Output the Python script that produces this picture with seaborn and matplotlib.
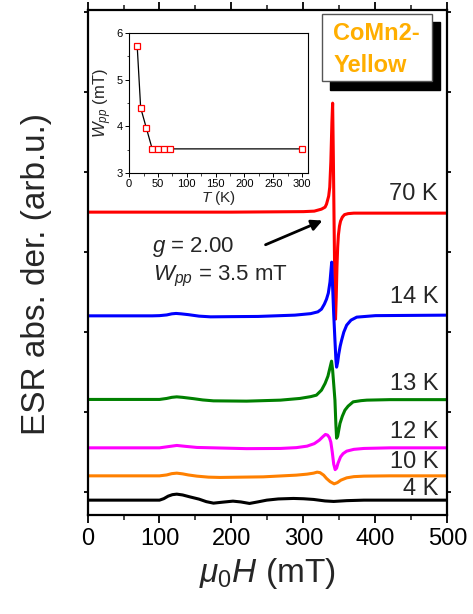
import matplotlib
matplotlib.use('Agg')
import matplotlib.pyplot as plt
import seaborn as sns
from matplotlib.patches import Rectangle
from matplotlib.ticker import MultipleLocator

# ESR spectra of CoMn2 (yellow) at several temperatures, offset vertically
# field values in mT, signal in arb. units (already offset)

h_70 = [0, 100, 200, 300, 315, 320, 325, 330, 332, 335, 336.5, 338, 339.5, 340.5, 341.5, 342.5, 343.5, 344.5,
        345.5, 346.5, 347.5, 348.5, 350, 351.5, 354, 357, 362, 370, 400, 500]
s_70 = [2.80, 2.80, 2.80, 2.805, 2.81, 2.82, 2.83, 2.85, 2.88, 2.96, 3.05, 3.30, 3.70, 3.89, 3.35, 2.70, 2.10, 1.73,
        1.95, 2.25, 2.45, 2.57, 2.66, 2.71, 2.75, 2.775, 2.785, 2.79, 2.79, 2.79]

h_14 = [0, 90, 100, 110, 117, 123, 130, 140, 155, 171, 200, 237, 288, 310, 320, 325, 329, 332, 334.5, 336.8, 338,
        339.2, 340.5, 342, 343.5, 345, 346, 347.5, 349, 351, 353, 356, 360, 366, 374, 400, 500]
s_14 = [1.763, 1.763, 1.765, 1.772, 1.783, 1.787, 1.783, 1.775, 1.760, 1.753, 1.755, 1.757, 1.77, 1.785, 1.803, 1.83,
        1.88, 1.93, 1.99, 2.10, 2.20, 2.30, 2.05, 1.78, 1.55, 1.33, 1.25, 1.30, 1.38, 1.46, 1.52, 1.60, 1.67, 1.72,
        1.75, 1.765, 1.77]

h_13 = [0, 100, 110, 117, 124, 132, 147, 160, 175, 221, 268, 295, 310, 318, 325, 330, 334, 337, 339, 340.5, 342,
        343.7, 345, 346, 347.5, 349, 350.7, 354, 357.6, 362, 369, 380, 388, 420, 500]
s_13 = [0.927, 0.927, 0.937, 0.948, 0.953, 0.948, 0.935, 0.922, 0.913, 0.91, 0.92, 0.937, 0.955, 0.97, 1.02, 1.087,
        1.16, 1.25, 1.31, 1.22, 1.08, 0.92, 0.68, 0.54, 0.56, 0.62, 0.687, 0.76, 0.82, 0.86, 0.903, 0.915, 0.92,
        0.925, 0.925]

h_12 = [0, 100, 112, 124, 136, 152, 221, 268, 290, 305, 315, 322, 327, 330.5, 333.5, 336, 338, 340, 342, 344, 346,
        348, 351.5, 355, 360, 370, 384, 420, 500]
s_12 = [0.443, 0.443, 0.455, 0.467, 0.458, 0.447, 0.435, 0.437, 0.445, 0.46, 0.485, 0.52, 0.555, 0.577, 0.57, 0.545,
        0.50, 0.40, 0.28, 0.225, 0.24, 0.29, 0.353, 0.385, 0.41, 0.428, 0.437, 0.443, 0.443]

h_10 = [0, 100, 110, 117, 124, 132, 140, 152, 168, 184, 244, 290, 305, 314, 319, 323, 328, 332, 337, 342.6, 347,
        352, 360, 370, 384, 420, 500]
s_10 = [0.163, 0.163, 0.172, 0.185, 0.19, 0.183, 0.172, 0.16, 0.15, 0.147, 0.153, 0.17, 0.18, 0.19, 0.20, 0.195,
        0.17, 0.137, 0.105, 0.083, 0.095, 0.12, 0.143, 0.155, 0.16, 0.163, 0.163]

h_4 = [0, 100, 106, 112, 118, 124, 132, 142, 155, 165, 175, 188, 202, 213, 225, 237, 249, 265, 286, 300, 314, 330,
       342, 360, 384, 500]
s_4 = [-0.08, -0.08, -0.065, -0.04, -0.025, -0.02, -0.028, -0.047, -0.07, -0.095, -0.11, -0.10, -0.09, -0.098,
       -0.113, -0.097, -0.08, -0.068, -0.063, -0.066, -0.073, -0.088, -0.093, -0.085, -0.08, -0.08]

traces = [
    ('70 K', h_70, s_70, '#ff0000', 2.92),
    ('14 K', h_14, s_14, '#0000ff', 1.887),
    ('13 K', h_13, s_13, '#008000', 1.02),
    ('12 K', h_12, s_12, '#ff00ff', 0.537),
    ('10 K', h_10, s_10, '#ff8000', 0.243),
    ('4 K', h_4, s_4, '#000000', -0.03),
]

# inset: linewidth vs temperature
temp_k = [14, 20, 30, 40, 50, 60, 70, 300]
w_pp = [5.72, 4.40, 3.96, 3.52, 3.52, 3.52, 3.52, 3.52]

sns.set_theme(style='ticks')
plt.rcParams['font.family'] = ['Liberation Sans', 'DejaVu Sans']
plt.rcParams['mathtext.fontset'] = 'custom'
plt.rcParams['mathtext.rm'] = 'Liberation Sans'
plt.rcParams['mathtext.it'] = 'Liberation Sans:italic'

fig = plt.figure(figsize=(4.73, 6.14), dpi=100)
ax = fig.add_axes([0.185, 0.161, 0.761, 0.8225])

for name, h, s, c, ylab in traces:
    sns.lineplot(x=h, y=s, ax=ax, color=c, lw=2.2, estimator=None)
    ax.text(487, ylab, name, ha='right', va='baseline', fontsize=17)

ax.set_xlim(0, 500)
ax.set_ylim(-0.23, 4.82)
ax.xaxis.set_major_locator(MultipleLocator(100))
ax.xaxis.set_minor_locator(MultipleLocator(50))
ax.set_yticks([0, 0.8, 1.6, 2.4, 3.2, 4.0, 4.8])
ax.set_yticklabels([])
ax.tick_params(direction='out', length=6, width=1.3, top=True, right=True, labelsize=17, colors='black')
ax.tick_params(axis='y', length=3)
ax.tick_params(which='minor', direction='out', length=3.5, width=1.2, top=True)
for sp in ax.spines.values():
    sp.set_linewidth(1.6)
    sp.set_color('black')
ax.set_xlabel(r'$\mu_{\mathit{0}}H$ (mT)', fontsize=24, labelpad=4)
ax.set_ylabel('ESR abs. der. (arb.u.)', fontsize=24)
ax.yaxis.set_label_coords(-0.10, 0.477)

ax.annotate('', xy=(330, 2.727), xytext=(243.75, 2.463),
            arrowprops=dict(arrowstyle='-|>', color='black', lw=2, mutation_scale=16))
ax.text(89, 2.40, '$g$ = 2.00', fontsize=16, va='baseline')
ax.text(91, 2.12, '$W_{pp}$ = 3.5 mT', fontsize=16, va='baseline')

# inset
ins = fig.add_axes([0.273, 0.718, 0.378, 0.228])
sns.lineplot(x=temp_k, y=w_pp, ax=ins, color='black', lw=0.9, marker='s', ms=4.5,
             markerfacecolor='white', markeredgecolor='red', markeredgewidth=0.9, estimator=None)
ins.set_xlim(0, 310)
ins.set_ylim(3, 6)
ins.xaxis.set_major_locator(MultipleLocator(50))
ins.xaxis.set_minor_locator(MultipleLocator(25))
ins.yaxis.set_major_locator(MultipleLocator(1))
ins.yaxis.set_minor_locator(MultipleLocator(0.5))
ins.tick_params(direction='out', length=3, width=0.7, labelsize=8, pad=1.5, colors='black')
ins.tick_params(which='minor', direction='out', length=1.8, width=0.6)
for sp in ins.spines.values():
    sp.set_linewidth(0.8)
    sp.set_color('black')
ins.set_xlabel('$T$ (K)', fontsize=11, labelpad=0)
ins.set_ylabel('$W_{pp}$ (mT)', fontsize=12, labelpad=2)

# sample label box with drop shadow
fig.add_artist(Rectangle((0.698, 0.8534), 0.2326, 0.110, transform=fig.transFigure,
                         facecolor='black', edgecolor='black', zorder=5))
fig.add_artist(Rectangle((0.680, 0.868), 0.2326, 0.110, transform=fig.transFigure,
                         facecolor='white', edgecolor='#555555', lw=1, zorder=6))
fig.text(0.7047, 0.935, 'CoMn2-', color='#ffae00', fontsize=17, fontweight='bold', va='baseline', zorder=7)
fig.text(0.7047, 0.883, 'Yellow', color='#ffae00', fontsize=17, fontweight='bold', va='baseline', zorder=7)

fig.savefig('out.png', dpi=100)
